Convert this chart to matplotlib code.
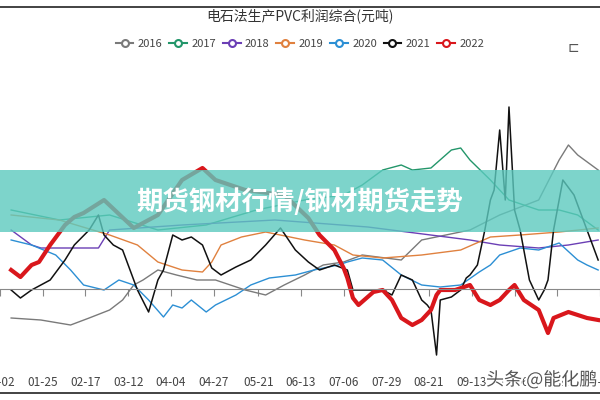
import matplotlib.pyplot as plt
from matplotlib.patches import Rectangle
import matplotlib.patheffects as pe

plt.rcParams['font.family'] = ['Noto Sans CJK SC', 'DejaVu Sans']

# day-of-year positions and profit values (yuan/ton)
d2016 = [8, 24, 40, 50, 61, 68, 74, 79, 87, 97, 108, 118, 126, 134, 145, 155, 166, 176, 187, 197, 218, 229, 255, 271, 292, 303, 308, 313, 324]
v2016 = [-290, -310, -360, -290, -210, -110, 40, 90, 190, 140, 90, 90, 40, -10, -60, 40, 140, 240, 270, 340, 290, 490, 590, 740, 890, 1290, 1440, 1340, 1190]
d2017 = [8, 34, 61, 87, 113, 140, 166, 187, 197, 208, 218, 224, 234, 245, 250, 255, 266, 276, 292, 303, 313, 324]
v2017 = [790, 690, 740, 590, 640, 790, 890, 940, 1040, 1190, 1240, 1190, 1210, 1390, 1410, 1290, 1090, 890, 790, 790, 740, 590]
d2018 = [8, 19, 24, 34, 55, 61, 100, 150, 200, 255, 271, 292, 308, 324]
v2018 = [590, 440, 410, 410, 410, 590, 640, 690, 620, 490, 440, 410, 440, 490]
d2019 = [8, 34, 61, 76, 87, 100, 111, 116, 121, 132, 145, 166, 182, 192, 208, 229, 250, 266, 282, 303, 324]
v2019 = [740, 690, 540, 440, 270, 190, 170, 270, 440, 520, 570, 490, 440, 340, 310, 340, 390, 520, 540, 570, 610]
d2020 = [8, 19, 32, 40, 47, 58, 66, 74, 82, 90, 95, 100, 105, 113, 118, 129, 137, 147, 161, 171, 184, 189, 197, 208, 218, 229, 239, 250, 260, 266, 271, 282, 292, 303, 313, 318, 324]
v2020 = [490, 440, 340, 190, 40, -10, 90, 40, -110, -280, -160, -190, -110, -230, -160, -60, 40, 110, 140, 190, 240, 270, 310, 290, 140, 40, 20, 40, 170, 240, 340, 410, 390, 460, 290, 240, 190]
d2021 = [8, 13, 19, 29, 37, 42, 50, 55, 58, 63, 68, 74, 76, 82, 87, 90, 95, 100, 105, 111, 116, 121, 129, 137, 145, 153, 161, 168, 174, 182, 189, 192, 197, 208, 213, 218, 224, 229, 232, 234, 237, 239, 245, 250, 253, 255, 259, 263, 266, 268, 271, 274, 276, 279, 282, 287, 292, 295, 297, 300, 303, 305, 311, 318, 324]
v2021 = [-10, -90, -10, 90, 290, 440, 590, 740, 540, 440, 390, 90, -10, -230, 90, 190, 540, 490, 520, 440, 210, 140, 220, 290, 440, 610, 390, 270, 190, 240, 190, -10, -10, -10, -60, 140, 90, -110, -160, -210, -660, -110, -80, -10, 110, 140, 240, 590, 890, 990, 1590, 890, 1820, 790, 590, 90, -110, -10, 90, 590, 890, 1090, 940, 590, 290]
d2022 = [8, 13, 19, 23, 29, 37, 42, 47, 58, 74, 87, 100, 111, 118, 134, 155, 168, 174, 182, 187, 189, 192, 195, 203, 208, 213, 218, 224, 229, 234, 237, 239, 247, 255, 260, 266, 271, 276, 279, 284, 292, 297, 300, 308, 318, 324]
v2022 = [190, 120, 240, 270, 440, 640, 720, 760, 890, 610, 740, 1090, 1210, 1090, 990, 940, 710, 540, 390, 210, 110, -90, -160, -30, -10, -110, -290, -360, -310, -210, -60, -10, -10, 40, -110, -160, -110, -10, 40, -110, -210, -440, -290, -230, -290, -310]

series = [
    ('2016', d2016, v2016, '#7a7a7a', 1.0),
    ('2017', d2017, v2017, '#23966a', 1.0),
    ('2018', d2018, v2018, '#6b3fb5', 1.0),
    ('2019', d2019, v2019, '#e0813f', 1.0),
    ('2020', d2020, v2020, '#2c8fd4', 1.0),
    ('2021', d2021, v2021, '#111111', 1.1),
    ('2022', d2022, v2022, '#d9171c', 3.0),
]
tick_days = [2, 25, 48, 71, 94, 117, 141, 164, 187, 210, 233, 256, 279, 302, 325]
tick_labels = ['01-02', '01-25', '02-17', '03-12', '04-04', '04-27', '05-21', '06-13',
               '07-06', '07-29', '08-21', '09-13', '10-06', '10-29', '11-21']

fig = plt.figure(figsize=(6, 4), dpi=100)
ax = fig.add_axes([0, 0.0125, 1, 0.75])
for name, d, v, c, lw in series:
    ax.plot(d, v, color=c, lw=lw, label=name)

ax.set_xlim(8, 324)
ax.set_ylim(-1060, 1940)
for s in ['top', 'left', 'right']:
    ax.spines[s].set_visible(False)
ax.spines['bottom'].set_position(('data', 0))
ax.spines['bottom'].set_color('#888888')
ax.set_yticks([])
ax.set_xticks(tick_days)
ax.set_xticklabels(tick_labels, fontsize=8.5, color='#444444')
ax.tick_params(axis='x', length=5, color='#888888', pad=58)

# legend
handles = [plt.Line2D([], [], color=c, lw=1.5, marker='o', markersize=5,
                      markerfacecolor='white', markeredgewidth=1.5) for _, _, _, c, _ in series]
fig.legend(handles, [s[0] for s in series], loc='center', bbox_to_anchor=(0.5, 0.89),
           ncol=7, frameon=False, fontsize=8, handlelength=1.6, handletextpad=0.4,
           columnspacing=0.6, labelcolor='#444444')
fig.text(0.5, 0.96, '电石法生产PVC利润综合(元吨)', ha='center', va='center', fontsize=10, color='#333333')
fig.text(0.955, 0.88, '⊏', ha='center', va='center', fontsize=10, color='#555555')

# frame lines
fig.add_artist(plt.Line2D([0, 1], [0.982, 0.982], color='#222222', lw=1.2))
fig.add_artist(plt.Line2D([0, 1], [0.018, 0.018], color='#222222', lw=1.2))

# banner overlay
fig.add_artist(Rectangle((0, 0.42), 1, 0.155, transform=fig.transFigure,
                         facecolor='#5ccabf', alpha=0.8, edgecolor='none'))
fig.text(0.5, 0.495, '期货钢材行情/钢材期货走势', ha='center', va='center', fontsize=19,
         fontweight='bold', color='white')
fig.text(0.81, 0.05, '头条 @能化鹏', ha='left', va='center', fontsize=13, color='#555555',
         path_effects=[pe.withStroke(linewidth=3, foreground='white')])

fig.savefig('out.png')
